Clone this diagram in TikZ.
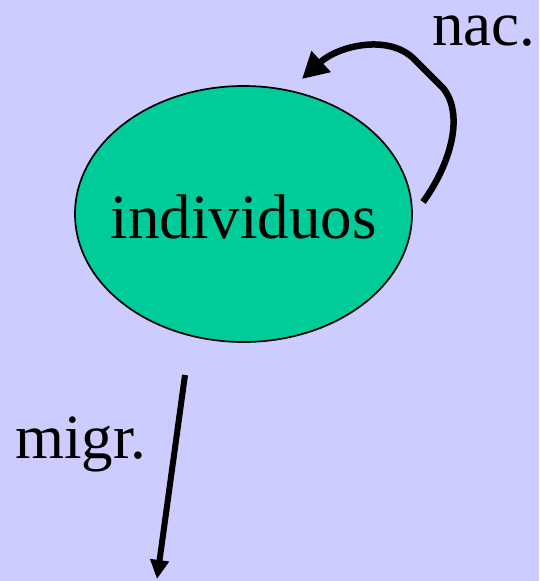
\documentclass[tikz,border=0pt]{standalone}
\usepackage{fontspec}
\setmainfont{Liberation Serif}
\usetikzlibrary{shapes.geometric,arrows.meta}
\definecolor{bg}{HTML}{CCCCFF}
\definecolor{cell}{HTML}{00CC99}
\begin{document}
\begin{tikzpicture}[x=1pt,y=-1pt,
  big/.style={font=\fontsize{63}{70}\selectfont},
  lbl/.style={big,anchor=base west,inner sep=0},
  arr/.style={line width=6.5pt,-{Triangle[length=26pt,width=27pt]}},
  arrb/.style={line width=6pt,-{Triangle[length=19pt,width=18pt]}}]
\fill[bg] (0,0) rectangle (539,581);
\useasboundingbox (0,0) rectangle (539,581);
\node[ellipse,draw=black,line width=1.7pt,fill=cell,minimum width=337pt,minimum height=256pt,inner sep=0] (ind) at (243.5,214) {};
\node[big,anchor=base,inner sep=0] (indt) at (243.5,238) {individuos};
\node[lbl] (nac) at (432,45) {nac.};
\node[lbl] (migr) at (15,458) {migr.};
\coordinate (s1) at (423,202);
\coordinate (e1) at (302,79);
\coordinate (s2) at (185,375);
\coordinate (e2) at (157,579);
\draw[arr] (s1) .. controls (450,165) and (465,115) .. (443,88) -- (413,58) .. controls (387,34) and (338,46) .. (e1);
\draw[arrb] (s2) -- (e2);
\end{tikzpicture}
\end{document}
